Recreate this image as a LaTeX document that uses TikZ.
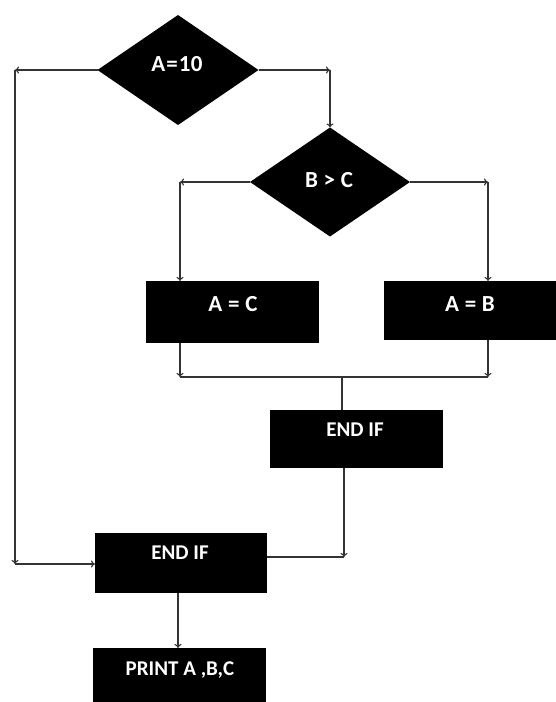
\documentclass[tikz,border=0pt]{standalone}
\usepackage{fontspec}
\setmainfont{Carlito}
% slightly roomier spacing for the short assignment/comparison labels
\newfontfamily\eqfont{Carlito}[WordSpace=1.1]
\usetikzlibrary{shapes.geometric,arrows.meta}

\begin{document}
\begin{tikzpicture}[
  x=1pt, y=-1pt,
  line/.style={draw=black!80, line width=1.1pt},
  arr/.style={line, -{To[length=4pt,width=7pt]}},
  decision/.style={diamond, fill=black, draw=none, inner sep=0pt, outer sep=0pt},
  block/.style={rectangle, fill=black, draw=none, inner sep=0pt, outer sep=0pt},
  label text/.style={text=white, font=\fontsize{21}{25}\selectfont\bfseries, inner sep=0pt},
  eq text/.style={label text, font=\eqfont\fontsize{23}{27}\selectfont\bfseries}
]
% canvas
\fill[white] (0,0) rectangle (555,702);
\useasboundingbox (0,0) rectangle (555,702);

% decisions
\node[decision, minimum width=161pt, minimum height=110pt] (d1) at (178,70) {};
\node[eq text] (d1t) at (177,64.5) {A\kern1pt=\kern1pt1\kern0.5pt0};
\node[decision, minimum width=160pt, minimum height=109pt] (d2) at (330,182) {};
\node[eq text] (d2t) at (329,180) {B > C};

% process boxes
\node[block, minimum width=173pt, minimum height=62pt] (ac) at (232.5,312) {};
\node[eq text] (act) at (233,304) {A = C};
\node[block, minimum width=172pt, minimum height=59pt] (ab) at (470,310.5) {};
\node[eq text] (abt) at (470,304) {A = B};
\node[block, minimum width=173pt, minimum height=58pt] (e1) at (356.5,439) {};
\node[label text] (e1t) at (355,430) {END IF};
\node[block, minimum width=172pt, minimum height=60pt] (e2) at (181,563) {};
\node[label text] (e2t) at (180,553) {END IF};
\node[block, minimum width=173pt, minimum height=58pt] (pr) at (179.5,677) {};
\node[label text, text depth=0pt] (prt) at (180,669) {PRINT A ,B,C};

% bend points
\coordinate (c1) at (330,70);
\coordinate (c3) at (15,70);
\coordinate (c4) at (15,564);
\coordinate (c5) at (180,182);
\coordinate (c6) at (488,182);
\coordinate (m1) at (180,377);
\coordinate (m2) at (488,377);
\coordinate (m3) at (342,377);
\coordinate (c7) at (344,557);
\coordinate (c8) at (178,600);

% outer decision
\draw[arr] (d1.east) -- (c1);
\draw[arr] (c1) -- (d2.north);
\draw[arr] (d1.west) -- (c3);
\draw[arr] (c3) -- (c4);
\draw[arr] (c4) -- (c4 -| e2.west);

% inner decision
\draw[arr] (d2.west) -- (c5);
\draw[arr] (c5) -- (c5 |- ac.north);
\draw[arr] (d2.east) -- (c6);
\draw[arr] (c6) -- (c6 |- ab.north);

% merge of the inner branches
\draw[arr] (m1 |- ac.south) -- (m1);
\draw[arr] (m2 |- ab.south) -- (m2);
\draw[line] (m1) -- (m2);
\draw[line] (m3) -- (m3 |- e1.north);

% merge of the outer branches
\draw[arr] (c7 |- e1.south) -- (c7);
\draw[line] (c7) -- (c7 -| e2.east);
\draw[arr] (c8 |- e2.south) -- (c8 |- pr.north);
\end{tikzpicture}
\end{document}
